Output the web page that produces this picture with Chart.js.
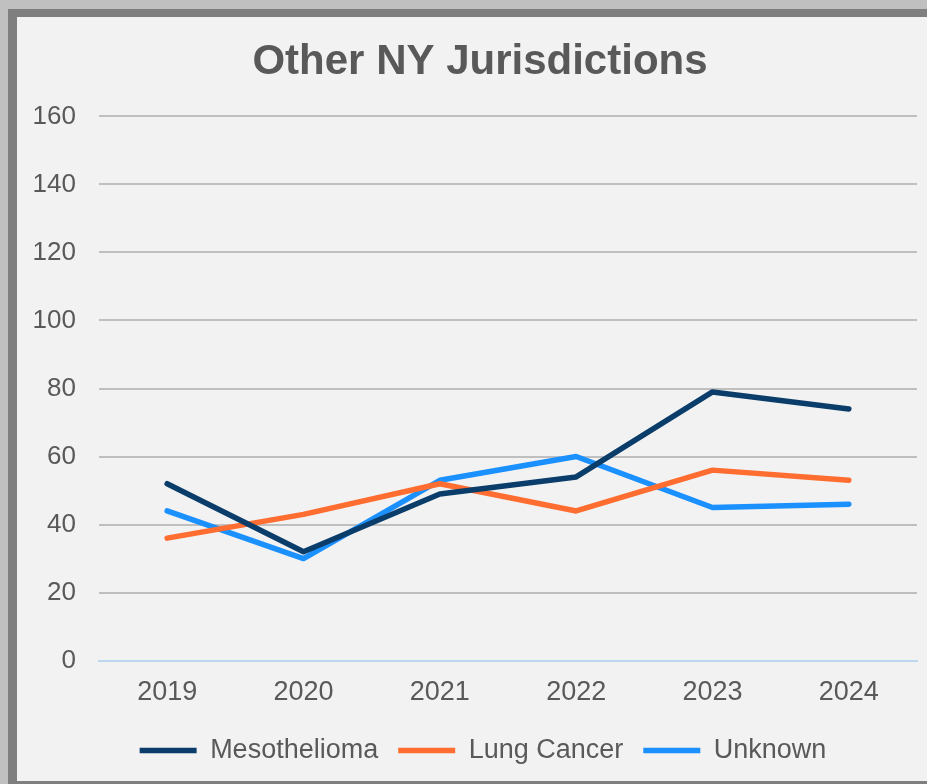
<!DOCTYPE html>
<html>
<head>
<meta charset="utf-8">
<script src="https://cdn.jsdelivr.net/npm/chart.js@4.4.1/dist/chart.umd.min.js"></script>
<style>
    body {
        margin: 0;
        background: #c0c0c0;
        width: 927px;
        height: 784px;
        overflow: hidden;
    }
    #frame {
        position: absolute;
        left: 8px;
        top: 9px;
        width: 910px;
        height: 764px;
        border-left: 9px solid #7f7f7f;
        border-top: 8px solid #7f7f7f;
        border-bottom: 3px solid #7f7f7f;
        background: #f2f2f2;
    }
</style>
</head>
<body>
<div id="frame">
    <canvas id="chart" width="910" height="764"></canvas>
</div>
<script>
// Dados do gráfico
var years = ["2019", "2020", "2021", "2022", "2023", "2024"];
var mesothelioma = [52, 32, 49, 54, 79, 74];
var lungCancer = [36, 43, 52, 44, 56, 53];
var unknown = [44, 30, 53, 60, 45, 46];
var yTicks = [0, 20, 40, 60, 80, 100, 120, 140, 160];

var textColor = "#595959";
var fontFamily = "'Liberation Sans', Arial, sans-serif";

function serie(label, data, color) {
    return {
        label: label,
        data: data,
        borderColor: color,
        backgroundColor: color,
        borderWidth: 5.5,
        borderCapStyle: "round",
        borderJoinStyle: "round",
        pointRadius: 0,
        pointStyle: "line",
        tension: 0,
        fill: false,
    };
}

// título e legenda um pouco deslocados para a direita, como no original
var shiftPlugin = {
    id: "shiftTitleLegend",
    afterLayout: function (chart) {
        if (chart.titleBlock) {
            chart.titleBlock.left += 26;
        }
        if (chart.legend) {
            chart.legend.left += 32;
        }
    },
};

document.addEventListener("DOMContentLoaded", function () {
    var ctx = document.getElementById("chart").getContext("2d");

    new Chart(ctx, {
        type: "line",
        data: {
            labels: years,
            datasets: [
                serie("Mesothelioma", mesothelioma, "#0b3d6b"),
                serie("Lung Cancer", lungCancer, "#ff6e30"),
                serie("Unknown", unknown, "#1b90ff"),
            ],
        },
        plugins: [shiftPlugin],
        options: {
            responsive: false,
            animation: false,
            layout: {
                padding: { left: 0, right: 10, top: 0, bottom: 7 },
            },
            scales: {
                x: {
                    offset: true,
                    grid: { display: false },
                    border: { color: "#bdd7ee", width: 2 },
                    ticks: {
                        color: textColor,
                        font: { family: fontFamily, size: 27 },
                        padding: 8,
                    },
                },
                y: {
                    min: 0,
                    max: 160,
                    afterBuildTicks: function (axis) {
                        axis.ticks = yTicks.map(function (v) {
                            return { value: v };
                        });
                    },
                    afterFit: function (axis) {
                        axis.width = 82;
                    },
                    border: { display: false },
                    grid: {
                        color: function (c) {
                            return c.tick.value === 0 ? "#bdd7ee" : "#bfbfbf";
                        },
                        lineWidth: 2,
                        drawTicks: false,
                    },
                    ticks: {
                        color: textColor,
                        font: { family: fontFamily, size: 26 },
                        padding: 23,
                    },
                },
            },
            plugins: {
                title: {
                    display: true,
                    text: "Other NY Jurisdictions",
                    color: textColor,
                    font: { family: fontFamily, size: 42, weight: "bold" },
                    padding: { top: 20, bottom: 29 },
                },
                legend: {
                    position: "bottom",
                    labels: {
                        usePointStyle: true,
                        pointStyleWidth: 57,
                        color: textColor,
                        font: { family: fontFamily, size: 27 },
                        padding: 20,
                    },
                },
                tooltip: { enabled: false },
            },
        },
    });
});
</script>
</body>
</html>
